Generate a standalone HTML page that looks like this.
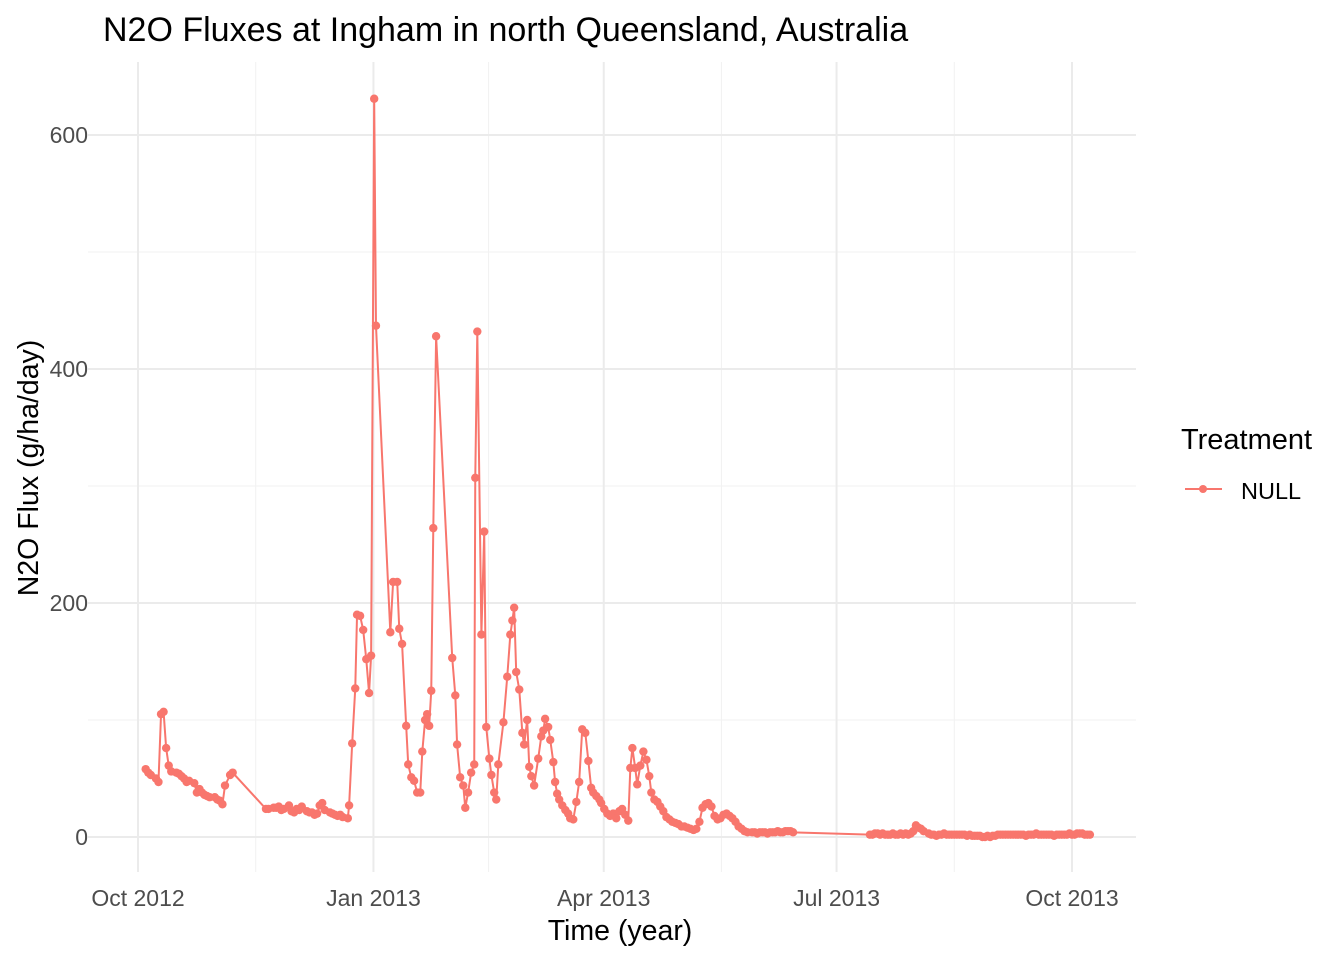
<!DOCTYPE html>
<html><head><meta charset="utf-8"><style>
body{margin:0;background:#fff;width:1344px;height:960px;overflow:hidden;font-family:"Liberation Sans",sans-serif}
svg text{font-family:"Liberation Sans",sans-serif}
</style></head><body>
<svg id="chart" width="1344" height="960">
<text x="103" y="41" font-size="34" fill="#000">N2O Fluxes at Ingham in north Queensland, Australia</text>
<g id="grid"></g>
<g id="ticks"></g>
<g id="series"></g>
<text x="620" y="940" font-size="28.5" text-anchor="middle" fill="#000">Time (year)</text>
<text transform="translate(38,468) rotate(-90)" font-size="28.5" text-anchor="middle" fill="#000">N2O Flux (g/ha/day)</text>
<text x="1181" y="449" font-size="29" fill="#000">Treatment</text>
<g>
<line x1="1185" y1="489" x2="1222" y2="489" stroke="#F8766D" stroke-width="2"/>
<circle cx="1203" cy="489" r="4" fill="#F8766D"/>
<text x="1241" y="499" font-size="23.5" fill="#000">NULL</text>
</g>
</svg>
<script>
// days since 2012-10-01
const days=[3,4,5,7,8,9,10,11,12,13,15,16,17,18,19,20,22,23,24,25,26,27,28,30,31,32,33,34,36,37,
50,51,53,54,55,56,57,59,60,61,62,63,64,66,67,68,69,70,71,72,73,75,76,77,78,79,80,82,82.5,83.7,84.9,85.6,86.8,88,89.2,90.3,91.1,92.3,93,98.6,99.7,101.3,102.1,103.2,104.8,105.6,106.8,107.9,109.1,110.3,111.1,112.2,113,113.8,114.6,115.4,116.5,122.8,124,124.7,125.9,127.1,127.9,129,130.2,131.4,131.8,132.6,134.2,135.3,136.1,137.3,138.1,139.2,140,140.8,142.8,144.3,145.5,146.3,147,147.8,149,150.2,150.9,152.1,152.9,153.7,154.8,156.4,157.6,158.4,159.1,160.3,161.1,162.3,163,163.8,164.6,165.8,167,168.1,168.9,170.1,171.3,172.4,173.6,174.8,176,177.1,177.9,179.1,180.3,181,182.2,183.4,184.5,185.7,186.9,188.1,189.2,190.4,191.6,192.4,193.2,194.3,195.1,196.3,197.5,198.7,199.8,200.6,201.8,203,204.1,205.3,206.5,207.7,208.8,210,211.2,212.4,213.5,214.7,215.9,217.1,218.2,219.4,220.6,221.8,222.9,224.1,225.3,226.5,227.6,228.8,230,231.2,232.3,233.5,234.7,235.9,237,238.2,
240,241,242,243,244,245,246,247,248,249,250,251,252,253,254,255,256,
286,287,288,289,290,291,292,293,294,295,296,297,298,299,300,301,302,303,304,305,306,307,309,310,311,312,313,314,315,316,317,318,319,320,321,322,323,324,325,326,327,328,329,330,331,332,333,334,335,336,337,338,339,340,341,342,343,344,345,346,347,348,349,350,351,352,353,354,355,356,357,358,359,360,361,362,363,364,365,366,367,368,369,370,371,372];
const flux=[58,55,53,50,47,105,107,76,61,56,55,54,52,50,47,48,46,38,41,38,36,35,34,34,32,31,28,44,53,55,
24,24,25,25,26,23,24,27,22,21,24,23,26,22,21,21,19,20,27,29,23,21,20,19,18,19,17,16,27,80,127,190,189,177,152,123,155,631,437,175,218,218,178,165,95,62,51,48,38,38,73,100,105,95,125,264,428,153,121,79,51,44,25,38,55,62,307,432,173,261,94,67,53,38,32,62,98,137,173,185,196,141,126,89,79,100,60,52,44,67,86,91,101,94,83,64,47,37,32,27,23,20,16,15,30,47,92,89,65,42,38,35,32,29,24,20,18,20,16,22,24,19,14,59,76,59,45,61,73,66,52,38,32,30,26,22,17,15,13,12,11,9,9,8,7,6,7,13,25,28,29,26,18,15,16,19,20,18,16,13,9,7,5,4,
4,4,3,4,4,4,3,4,4,4,5,4,4,5,5,5,4,
2,2,3,3,2,3,2,2,2,3,2,2,3,2,3,2,3,5,10,8,7,5,3,2,2,1,2,2,3,2,2,2,2,2,2,2,2,1,2,1,1,1,1,0,0,1,0,1,1,2,2,2,2,2,2,2,2,2,2,2,1,2,2,2,3,2,2,2,2,2,2,1,2,2,2,2,2,3,2,2,3,3,3,2,2,2];
const yTicks=[0,200,400,600];
const yMinor=[100,300,500];
const xTickDays=[0,92,182,273,365];
const xTickLabels=["Oct 2012","Jan 2013","Apr 2013","Jul 2013","Oct 2013"];
const xMinorDays=[46,137,228,319];

const NS="http://www.w3.org/2000/svg";
const X0=88,X1=1136,Y0=62,Y1=872;
const xs=d=>138+d*(1072-138)/365;
const ys=v=>837-v*(837-135)/600;
function mk(tag,attrs,parent){const e=document.createElementNS(NS,tag);for(const k in attrs)e.setAttribute(k,attrs[k]);parent.appendChild(e);return e;}
const grid=document.getElementById('grid'),ticks=document.getElementById('ticks'),ser=document.getElementById('series');
yMinor.forEach(v=>{const l=mk('line',{x1:X0,x2:X1,y1:ys(v),y2:ys(v),stroke:'#f2f2f2','stroke-width':1},grid);

});
xMinorDays.forEach(d=>{const l=mk('line',{x1:xs(d),x2:xs(d),y1:Y0,y2:Y1,stroke:'#f2f2f2','stroke-width':1},grid);

});
yTicks.forEach(v=>{const l=mk('line',{x1:X0,x2:X1,y1:ys(v),y2:ys(v),stroke:'#ebebeb','stroke-width':2},grid);


const t=mk('text',{x:88,y:ys(v)+8,'text-anchor':'end','font-size':23,fill:'#4d4d4d'},ticks);t.textContent=v;

});
xTickDays.forEach((d,i)=>{const l=mk('line',{x1:xs(d),x2:xs(d),y1:Y0,y2:Y1,stroke:'#ebebeb','stroke-width':2},grid);


const t=mk('text',{x:xs(d),y:906,'text-anchor':'middle','font-size':23,fill:'#4d4d4d'},ticks);t.textContent=xTickLabels[i];

});
const pl=mk('polyline',{points:days.map((d,i)=>xs(d)+','+ys(flux[i])).join(' '),fill:'none',stroke:'#F8766D','stroke-width':2},ser);


days.forEach((d,i)=>{const c=mk('circle',{cx:xs(d),cy:ys(flux[i]),r:4.2,fill:'#F8766D'},ser);

});
</script>
</body></html>
